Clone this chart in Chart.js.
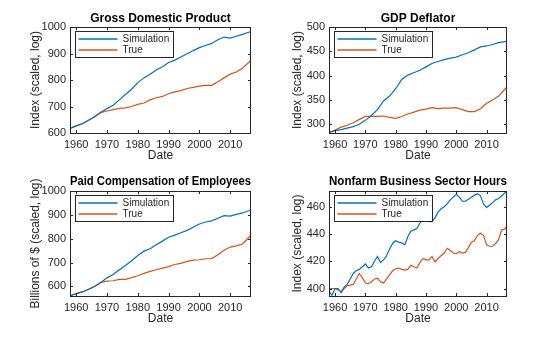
<!DOCTYPE html>
<html lang="en">
<head>
  <meta charset="UTF-8"/>
  <title>Simulation vs True</title>
  <script src="https://cdn.jsdelivr.net/npm/chart.js"></script>
  <style>
    body { margin: 0; background: #fff; }
    #fig { position: relative; width: 560px; height: 337px; }
    #fig canvas { position: absolute; }
  </style>
</head>
<body>
<div id="fig">
  <canvas id="c1" width="280" height="168" style="left:0;top:0"></canvas>
  <canvas id="c2" width="280" height="168" style="left:280px;top:0"></canvas>
  <canvas id="c3" width="280" height="169" style="left:0;top:168px"></canvas>
  <canvas id="c4" width="280" height="169" style="left:280px;top:168px"></canvas>
</div>

<script>
  // every two years (last point = 2016Q4)
  const yrs2 = [1958,1960,1962,1964,1966,1968,1970,1972,1974,1976,1978,1980,1982,1984,1986,
                1988,1990,1992,1994,1996,1998,2000,2002,2004,2006,2008,2010,2012,2014,2016,2016.75];
  // yearly
  const yrs1 = [1958,1959,1960,1961,1962,1963,1964,1965,1966,1967,1968,1969,1970,1971,1972,1973,
                1974,1975,1976,1977,1978,1979,1980,1981,1982,1983,1984,1985,1986,1987,1988,1989,
                1990,1991,1992,1993,1994,1995,1996,1997,1998,1999,2000,2001,2002,2003,2004,2005,
                2006,2007,2008,2009,2010,2011,2012,2013,2014,2015,2016,2016.75];

  const gdpSim  = [617,627,635,648,662,678,692,705,725,745,765,790,808,822,838,850,866,875,887,899,911,922,930,938,952,962,958,965,972,980,983];
  const gdpTrue = [617,627,635,648,660,677,683,688,693,695,700,708,713,725,733,738,748,755,760,768,772,777,780,780,793,808,822,830,845,866,875];

  const defSim  = [283,287,289,292,295,300,308,318,330,348,358,373,392,401,406,411,418,425,429,433,436,438,443,447,453,459,461,464,468,470,471];
  const defTrue = [283,288,294,298,303,310,316,316,316,317,314,312,316,321,325,329,331,334,332,333,333,334,330,326,326,332,343,350,358,372,377];

  const compSim  = [561,570,577,588,601,617,636,650,670,688,708,730,748,758,775,790,806,815,825,835,848,862,870,875,886,897,895,902,908,917,921];
  const compTrue = [561,570,577,587,600,617,622,624,630,630,637,645,655,663,670,677,683,692,697,705,710,712,716,717,733,752,765,770,778,805,815];

  const hrsSim  = [398,395,400,400,397,401,403,407,411,413,414,416,418,415,416,420,423.5,419,421,424,
                   429,433,435,434,433.5,432,438,442,443,444,448,451,453,449,449,452,456,458.5,460,462,
                   465,467,469,467,464,464,465.5,467,468.5,469.5,468,462,459.5,461,463,465,466,468,470,471.5];
  const hrsTrue = [400,400,400,399,397.5,400,402,402.5,403,407,411,408,404,403.5,405,407,407.5,405,404,407,
                   410,413,414.5,415,414,413.5,414,417,416,415,419,422,421,421,423.5,419.5,422,424,426,429.5,
                   428,426,425.5,427,426,426.5,430,434,435,439,440.5,439,432,431,431,433,436,443,443.5,446];

  const xTicks = [1960,1970,1980,1990,2000,2010];

  const BLUE = '#0072BD', ORANGE = '#D95319', INK = '#262626';
  const FONT = "'Liberation Sans', Arial, Helvetica, sans-serif";

  // box, inward ticks and legend like a matlab axes
  const matlabAxes = {
    id: 'matlabAxes',
    afterDraw(chart) {
      const {ctx, chartArea: a, scales: {x, y}} = chart;
      ctx.save();
      ctx.strokeStyle = INK;
      ctx.lineWidth = 1;
      ctx.beginPath();
      x.ticks.forEach(t => {
        const px = Math.round(x.getPixelForValue(t.value)) + 0.5;
        ctx.moveTo(px, a.bottom); ctx.lineTo(px, a.bottom - 3);
        ctx.moveTo(px, a.top);    ctx.lineTo(px, a.top + 3);
      });
      y.ticks.forEach(t => {
        const py = Math.round(y.getPixelForValue(t.value)) + 0.5;
        ctx.moveTo(a.left, py);  ctx.lineTo(a.left + 3, py);
        ctx.moveTo(a.right, py); ctx.lineTo(a.right - 3, py);
      });
      ctx.stroke();
      ctx.strokeRect(Math.round(a.left) + 0.5, Math.round(a.top) + 0.5,
                     Math.round(a.right - a.left) - 1, Math.round(a.bottom - a.top));

      // legend, north-west
      const lx = Math.round(a.left) + 5.5, ly = Math.round(a.top) + 4.5;
      ctx.fillStyle = '#fff';
      ctx.fillRect(lx, ly, 98, 26);
      ctx.strokeRect(lx, ly, 98, 26);
      ctx.font = '10px ' + FONT;
      ctx.textBaseline = 'middle';
      chart.data.datasets.forEach((ds, i) => {
        const ry = ly + 7.5 + i * 11;
        ctx.strokeStyle = ds.borderColor;
        ctx.lineWidth = 1.3;
        ctx.beginPath(); ctx.moveTo(lx + 3, ry); ctx.lineTo(lx + 42, ry); ctx.stroke();
        ctx.fillStyle = INK;
        ctx.fillText(ds.label, lx + 47, ry);
      });
      ctx.restore();
    }
  };

  function panel(id, o) {
    const toXY = (xs, ys) => xs.map((v, i) => ({x: v, y: ys[i]}));
    return new Chart(document.getElementById(id), {
      type: 'line',
      data: {
        datasets: [
          { label: 'Simulation', data: toXY(o.xs, o.sim), borderColor: BLUE },
          { label: 'True', data: toXY(o.xs, o.tru), borderColor: ORANGE }
        ]
      },
      options: {
        responsive: false,
        animation: false,
        events: [],
        elements: { point: { radius: 0 }, line: { borderWidth: 1.2, tension: 0 } },
        layout: { padding: { left: 0, top: 0, right: o.padR, bottom: 0 } },
        plugins: {
          legend: { display: false },
          tooltip: { enabled: false },
          title: {
            display: true, text: o.title, fullSize: false, color: '#000',
            font: { family: FONT, size: 12, weight: 'bold', lineHeight: 1.2 },
            padding: { top: o.titleTop, bottom: o.titleBottom }
          }
        },
        scales: {
          x: {
            type: 'linear', min: 1958, max: 2016.75,
            grid: { display: false, drawTicks: false, tickLength: 0 }, border: { display: false },
            afterBuildTicks: s => { s.ticks = xTicks.map(v => ({value: v})); },
            afterFit: s => { s.height = o.xH; },
            ticks: { color: INK, font: { family: FONT, size: 11 }, padding: 5,
                     maxRotation: 0, autoSkip: false, callback: v => String(v) },
            title: { display: true, text: 'Date', color: INK,
                     font: { family: FONT, size: 12, lineHeight: 1.2 }, padding: { top: 0, bottom: o.dateBottom } }
          },
          y: {
            min: o.yMin, max: o.yMax,
            grid: { display: false, drawTicks: false, tickLength: 0 }, border: { display: false },
            afterBuildTicks: s => { s.ticks = o.yTicks.map(v => ({value: v})); },
            afterFit: s => { s.width = o.yW; },
            ticks: { color: INK, font: { family: FONT, size: 11 }, padding: 4, callback: v => String(v) },
            title: { display: true, text: o.yLabel, color: INK,
                     font: { family: FONT, size: 12, lineHeight: 1.2 }, padding: { top: o.yLabelPad, bottom: 0 } }
          }
        }
      },
      plugins: [matlabAxes]
    });
  }

  panel('c1', { title: 'Gross Domestic Product', xs: yrs2, sim: gdpSim, tru: gdpTrue,
    yMin: 600, yMax: 1000, yTicks: [600,700,800,900,1000], yLabel: 'Index (scaled, log)',
    yW: 70, padR: 29, xH: 35, titleTop: 11.8, titleBottom: 0.8, dateBottom: 5.1, yLabelPad: 28.8 });

  panel('c2', { title: 'GDP Deflator', xs: yrs2, sim: defSim, tru: defTrue,
    yMin: 282, yMax: 500, yTicks: [300,350,400,450,500], yLabel: 'Index (scaled, log)',
    yW: 49, padR: 53, xH: 35, titleTop: 11.8, titleBottom: 0.8, dateBottom: 5.1, yLabelPad: 10.8 });

  panel('c3', { title: 'Paid Compensation of Employees', xs: yrs2, sim: compSim, tru: compTrue,
    yMin: 560, yMax: 1000, yTicks: [600,700,800,900,1000], yLabel: 'Billions of $ (scaled, log)',
    yW: 70, padR: 29, xH: 41, titleTop: 6.8, titleBottom: 1.8, dateBottom: 11.1, yLabelPad: 28.8 });

  panel('c4', { title: 'Nonfarm Business Sector Hours', xs: yrs1, sim: hrsSim, tru: hrsTrue,
    yMin: 394.5, yMax: 471.5, yTicks: [400,420,440,460], yLabel: 'Index (scaled, log)',
    yW: 49, padR: 53, xH: 41, titleTop: 6.8, titleBottom: 1.8, dateBottom: 11.1, yLabelPad: 10.8 });
</script>
</body>
</html>
